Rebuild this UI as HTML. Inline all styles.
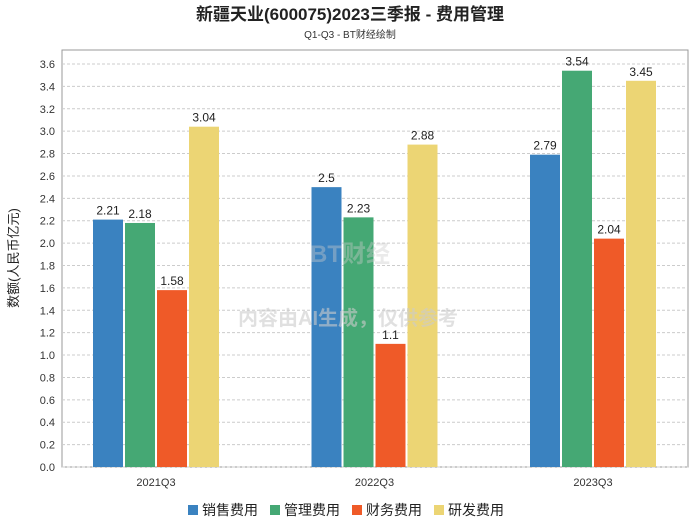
<!DOCTYPE html>
<html><head><meta charset="utf-8"><style>
body{margin:0;background:#fff;width:700px;height:524px;overflow:hidden;font-family:"Liberation Sans","Noto Sans CJK SC",sans-serif}
</style></head><body>
<svg width="700" height="524" xmlns="http://www.w3.org/2000/svg" font-family="Liberation Sans, Noto Sans CJK SC, sans-serif">
<text x="350" y="20" text-anchor="middle" font-size="17" font-weight="bold" fill="#222">新疆天业(600075)2023三季报 - 费用管理</text>
<text x="350" y="38" text-anchor="middle" font-size="10" fill="#333">Q1-Q3 - BT财经绘制</text>
<rect x="62" y="50" width="626" height="417" fill="none" stroke="#999"/>
<g id="grid"></g><g id="bars"></g><g id="labels"></g>
<text x="348" y="325" text-anchor="middle" font-size="20" font-weight="bold" fill="#ccc" opacity="0.6">内容由AI生成，仅供参考</text>
<text x="350" y="262" text-anchor="middle" font-size="24" font-weight="bold" fill="#ccc" opacity="0.4">BT财经</text>
<text x="18" y="258" text-anchor="middle" font-size="13" fill="#222" transform="rotate(-90 18 258)">数额(人民币亿元)</text>
<g id="legend"></g>
</svg>
<script>
const categories=["2021Q3","2022Q3","2023Q3"];
const seriesNames=["销售费用","管理费用","财务费用","研发费用"];
const sales=[2.21,2.5,2.79];
const admin=[2.18,2.23,3.54];
const finance=[1.58,1.1,2.04];
const rd=[3.04,2.88,3.45];
const yTicks=[0,0.2,0.4,0.6,0.8,1.0,1.2,1.4,1.6,1.8,2.0,2.2,2.4,2.6,2.8,3.0,3.2,3.4,3.6];
const colors=["#3a82c0","#45a874","#ef5a28","#ecd574"];
const NS="http://www.w3.org/2000/svg";
const y=v=>467-v*(403/3.6);
const gx=i=>156+218.5*i;
function mk(t,a,p){const e=document.createElementNS(NS,t);for(const k in a)e.setAttribute(k,a[k]);document.getElementById(p).appendChild(e);return e;}
yTicks.forEach(v=>{
 const l=mk("line",{x1:62,x2:688,y1:y(v),y2:y(v),stroke:"#ccc","stroke-dasharray":"3,2"},"grid");
 
 
 const t=mk("text",{x:55,y:y(v)+4,"text-anchor":"end","font-size":"11",fill:"#333"},"grid");
 t.textContent=v.toFixed(1);
 
 
});
const all=[sales,admin,finance,rd];
categories.forEach((c,i)=>{
 const t=mk("text",{x:gx(i),y:486,"text-anchor":"middle","font-size":"11",fill:"#333"},"labels");
 t.textContent=c;
 
 
 all.forEach((s,j)=>{
  const x=gx(i)-63+j*32;
  const r=mk("rect",{x:x,y:y(s[i]),width:30,height:467-y(s[i]),fill:colors[j]},"bars");
  
  
  const l=mk("text",{x:x+15,y:y(s[i])-5,"text-anchor":"middle","font-size":"12",fill:"#222"},"labels");
  l.textContent=String(s[i]);
  
  
 });
});
seriesNames.forEach((n,j)=>{
 const x=188+j*82;
 const r=mk("rect",{x:x,y:505,width:10,height:10,fill:colors[j]},"legend");
 
 
 const t=mk("text",{x:x+14,y:515,"font-size":"14",fill:"#222"},"legend");
 t.textContent=n;
 
 
});
</script>
</body></html>
